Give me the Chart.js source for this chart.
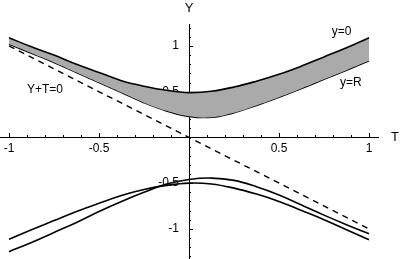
<!DOCTYPE html>
<html>
<head>
<meta charset="utf-8">
<script src="https://cdn.jsdelivr.net/npm/chart.js@4"></script>
<style>
  html, body { margin: 0; padding: 0; background: #fff; }
  canvas { display: block; }
</style>
</head>
<body>
<canvas id="chart" width="400" height="259"></canvas>
<script>
// T values shared by all curves
const tValues = [-1, -0.875, -0.75, -0.625, -0.5, -0.375, -0.25, -0.125, 0,
  0.125, 0.25, 0.375, 0.5, 0.625, 0.75, 0.875, 1];

// band edges (y=0 on top, y=R below)
const bandTop = [1.09, 0.99, 0.9, 0.8, 0.71, 0.62, 0.56, 0.515, 0.49,
  0.505, 0.55, 0.615, 0.69, 0.78, 0.88, 0.98, 1.09];
const bandBottom = [1.02, 0.92, 0.82, 0.71, 0.6, 0.49, 0.38, 0.29, 0.23,
  0.22, 0.27, 0.35, 0.44, 0.535, 0.635, 0.735, 0.837];

// the two lower curves
const lowerA = [-1.115, -1.01, -0.91, -0.81, -0.72, -0.635, -0.57, -0.525, -0.5,
  -0.51, -0.555, -0.62, -0.7, -0.8, -0.9, -1.01, -1.12];
const lowerB = [-1.25, -1.15, -1.04, -0.93, -0.81, -0.7, -0.6, -0.51, -0.46,
  -0.445, -0.47, -0.54, -0.63, -0.74, -0.85, -0.955, -1.055];

// dashed line Y+T=0
const diagT = [-1, 1];
const diagY = [1, -1];

const FONT = '"Liberation Sans", Arial, Helvetica, sans-serif';

function pts(xs, ys) {
  return xs.map((t, i) => ({ x: t, y: ys[i] }));
}

// centred axes should not eat into the plot area
function noFit(s) {
  if (s.isHorizontal()) s.height = 0; else s.width = 0;
  s.paddingTop = 0;
  s.paddingBottom = 0;
  s.paddingLeft = 0;
  s.paddingRight = 0;
}

// tick marks and text labels on the axes
const axisDecor = {
  id: "axisDecor",
  beforeDatasetsDraw(chart) {
    const { ctx, chartArea, scales: { x, y } } = chart;
    const x0 = x.getPixelForValue(0);
    const y0 = y.getPixelForValue(0);
    ctx.save();
    ctx.strokeStyle = "#000";
    ctx.lineWidth = 1;
    for (let i = -10; i <= 10; i++) {
      if (i === 0) continue;
      const px = Math.round(x.getPixelForValue(i / 10)) + 0.5;
      const len = i % 5 === 0 ? 4 : 2;
      ctx.beginPath();
      ctx.moveTo(px, Math.round(y0));
      ctx.lineTo(px, Math.round(y0) - len);
      ctx.stroke();
    }
    for (let i = -13; i <= 12; i++) {
      if (i === 0) continue;
      const py = Math.round(y.getPixelForValue(i / 10)) + 0.5;
      const len = i % 5 === 0 ? 4 : 2;
      ctx.beginPath();
      ctx.moveTo(Math.round(x0), py);
      ctx.lineTo(Math.round(x0) + len, py);
      ctx.stroke();
    }

    ctx.fillStyle = "#000";
    ctx.textAlign = "center";
    ctx.textBaseline = "middle";
    ctx.font = "13px " + FONT;
    ctx.fillText("Y", x0, chartArea.top - 16);
    ctx.fillText("T", chartArea.right + 17, y0);
    ctx.font = "12px " + FONT;
    ctx.fillText("y=0", x.getPixelForValue(0.848), y.getPixelForValue(1.153));
    ctx.fillText("y=R", x.getPixelForValue(0.899), y.getPixelForValue(0.595));
    ctx.fillText("Y+T=0", x.getPixelForValue(-0.8), y.getPixelForValue(0.524));
    ctx.restore();
  }
};

const curve = (data, extra) => Object.assign({
  data,
  borderColor: "#000",
  borderWidth: 1.6,
  pointRadius: 0,
  tension: 0.4,
  fill: false
}, extra);

new Chart(document.getElementById("chart"), {
  type: "line",
  data: {
    datasets: [
      curve(pts(tValues, bandTop), { fill: "+1", backgroundColor: "#aaaaaa" }),
      curve(pts(tValues, bandBottom)),
      curve(pts(diagT, diagY), { borderDash: [6, 5], borderWidth: 1.4, tension: 0 }),
      curve(pts(tValues, lowerA)),
      curve(pts(tValues, lowerB))
    ]
  },
  options: {
    responsive: false,
    animation: false,
    devicePixelRatio: 1,
    events: [],
    layout: { padding: { left: 0, right: 22, top: 24, bottom: 0 } },
    plugins: {
      legend: { display: false },
      tooltip: { enabled: false }
    },
    scales: {
      x: {
        type: "linear",
        min: -1.05,
        max: 1.05,
        position: { y: 0 },
        afterFit: noFit,
        grid: { display: false, drawTicks: false },
        border: { display: true, color: "#000", width: 1 },
        ticks: {
          stepSize: 0.5,
          includeBounds: false,
          autoSkip: false,
          maxRotation: 0,
          padding: 4,
          color: "#000",
          font: { size: 12, family: FONT },
          callback: v => (v === 0 ? "" : String(v))
        }
      },
      y: {
        type: "linear",
        min: -1.33,
        max: 1.24,
        position: { x: 0 },
        afterFit: noFit,
        grid: { display: false, drawTicks: false },
        border: { display: true, color: "#000", width: 1 },
        ticks: {
          stepSize: 0.5,
          includeBounds: false,
          autoSkip: false,
          padding: 0,
          color: "#000",
          font: { size: 12, family: FONT },
          // labels sit right-aligned on the axis, so pad them with spaces
          callback: v => (v === 0 ? "" : String(v) + "   ")
        }
      }
    }
  },
  plugins: [axisDecor]
});
</script>
</body>
</html>
